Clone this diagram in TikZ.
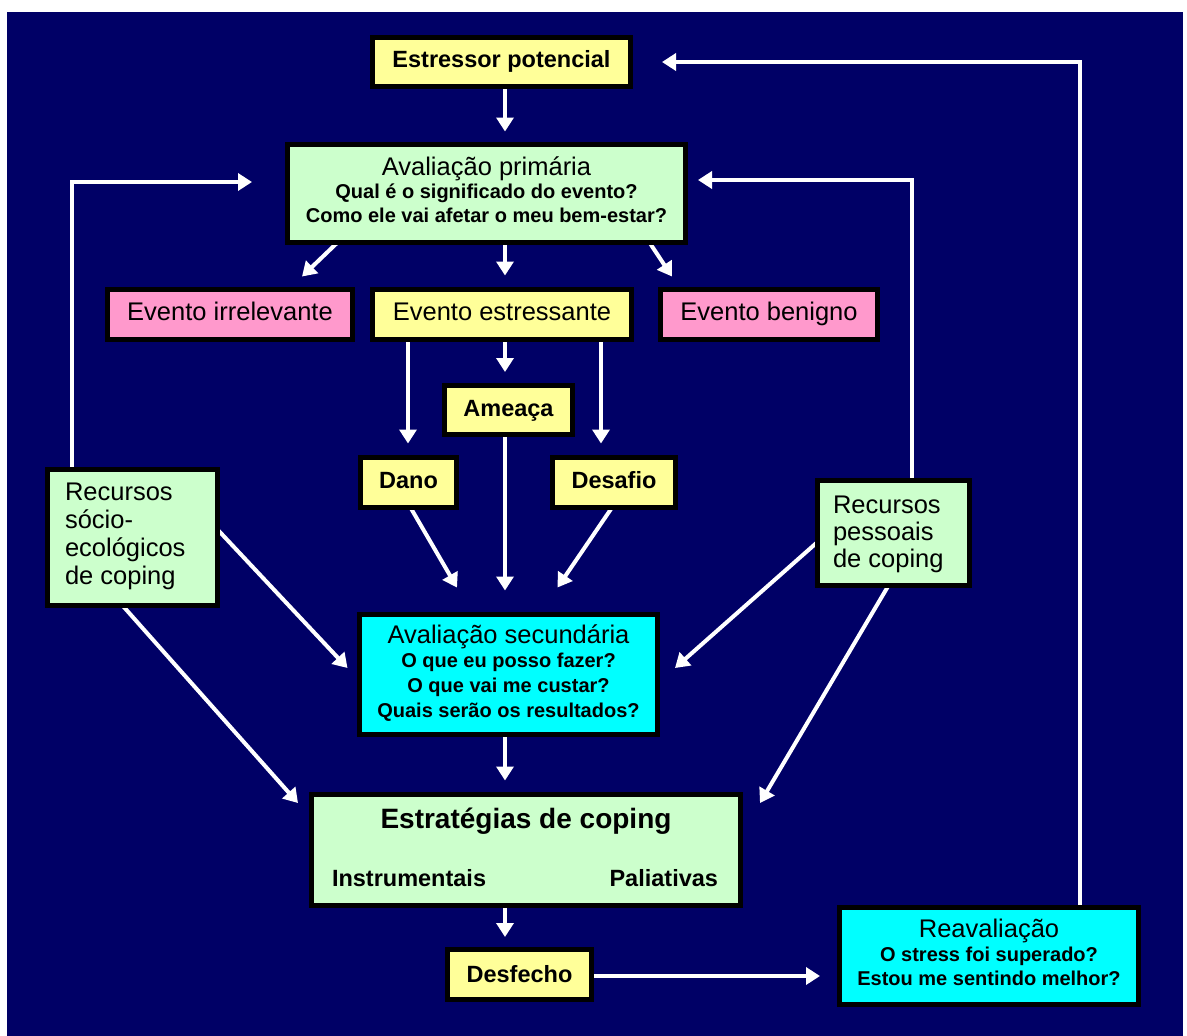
\documentclass[tikz,border=0pt]{standalone}
\usepackage{fontspec}
\setmainfont{Liberation Sans}
\usetikzlibrary{arrows.meta,calc}
\definecolor{navy}{HTML}{000066}
\definecolor{boxyellow}{HTML}{FFFF99}
\definecolor{boxgreen}{HTML}{CCFFCC}
\definecolor{boxpink}{HTML}{FF99CC}
\definecolor{boxcyan}{HTML}{00FFFF}
\pgfdeclarelayer{back}
\pgfdeclarelayer{arrows}
\pgfsetlayers{back,arrows,main}
\begin{document}
\begin{tikzpicture}[x=1pt,y=-1pt,
  box/.style={draw=black,line width=5pt,inner sep=0pt,outer sep=0pt},
  txt/.style={inner sep=0pt,outer sep=0pt,anchor=base,text=black},
  ltxt/.style={txt,anchor=base west},
  rtxt/.style={txt,anchor=base east},
  arr/.style={draw=white,line width=4pt,-{Triangle[width=17pt,length=14pt]}},
  fr/.style={font=\fontsize{25.5}{28}\selectfont},
  fb/.style={font=\bfseries\fontsize{23.5}{26}\selectfont},
  fbig/.style={font=\bfseries\fontsize{28}{30}\selectfont},
  fs/.style={font=\bfseries\fontsize{20}{24}\selectfont}]
\useasboundingbox (0,0) rectangle (1187,1036);
\begin{pgfonlayer}{back}
\fill[white] (0,0) rectangle (1187,1036);
\fill[navy] (7,12) rectangle (1183,1036);
\end{pgfonlayer}

% boxes
\node[box,fill=boxyellow,minimum width=258pt,minimum height=49pt] (estr) at (501.5,62) {};
\node[box,fill=boxgreen,minimum width=398pt,minimum height=98pt] (prim) at (486.5,193.5) {};
\node[box,fill=boxpink,minimum width=245pt,minimum height=50pt] (irrel) at (230,314.5) {};
\node[box,fill=boxyellow,minimum width=259pt,minimum height=50pt] (estres) at (502,314.5) {};
\node[box,fill=boxpink,minimum width=217pt,minimum height=50pt] (benig) at (769,314.5) {};
\node[box,fill=boxyellow,minimum width=128pt,minimum height=49pt] (ameaca) at (508.5,410) {};
\node[box,fill=boxyellow,minimum width=96pt,minimum height=50pt] (dano) at (408.5,482.5) {};
\node[box,fill=boxyellow,minimum width=123pt,minimum height=50pt] (desafio) at (614,482.5) {};
\node[box,fill=boxgreen,minimum width=170pt,minimum height=136pt] (rsocio) at (132.5,537.5) {};
\node[box,fill=boxgreen,minimum width=152pt,minimum height=105pt] (rpess) at (893.5,533) {};
\node[box,fill=boxcyan,minimum width=298pt,minimum height=120pt] (sec) at (508.5,674.5) {};
\node[box,fill=boxgreen,minimum width=429pt,minimum height=111pt] (estrat) at (526,850) {};
\node[box,fill=boxyellow,minimum width=144pt,minimum height=50pt] (desf) at (519.5,974.5) {};
\node[box,fill=boxcyan,minimum width=299pt,minimum height=97pt] (reav) at (989,956) {};

% texts
\node[txt,fb] (estr-t) at (501.5,67) {Estressor potencial};
\node[txt,fr] (prim-t1) at (486.5,175) {Avaliação primária};
\node[txt,fs] (prim-t2) at (486.5,198) {Qual é o significado do evento?};
\node[txt,fs] (prim-t3) at (486.5,222.5) {Como ele vai afetar o meu bem-estar?};
\node[txt,fr] (irrel-t) at (230,320) {Evento irrelevante};
\node[txt,fr] (estres-t) at (502,320) {Evento estressante};
\node[txt,fr] (benig-t) at (769,320) {Evento benigno};
\node[txt,fb] (ameaca-t) at (508.5,416) {Ameaça};
\node[txt,fb] (dano-t) at (408.5,488) {Dano};
\node[txt,fb] (desafio-t) at (614,488) {Desafio};
\node[ltxt,fr] (rsocio-t1) at (65,500) {Recursos};
\node[ltxt,fr] (rsocio-t2) at (65,528) {sócio-};
\node[ltxt,fr] (rsocio-t3) at (65,556) {ecológicos};
\node[ltxt,fr] (rsocio-t4) at (65,584) {de coping};
\node[ltxt,fr] (rpess-t1) at (833,513) {Recursos};
\node[ltxt,fr] (rpess-t2) at (833,540) {pessoais};
\node[ltxt,fr] (rpess-t3) at (833,567) {de coping};
\node[txt,fr] (sec-t1) at (508.5,643) {Avaliação secundária};
\node[txt,fs] (sec-t2) at (508.5,667) {O que eu posso fazer?};
\node[txt,fs] (sec-t3) at (508.5,692) {O que vai me custar?};
\node[txt,fs] (sec-t4) at (508.5,717) {Quais serão os resultados?};
\node[txt,fbig] (estrat-t1) at (526,828) {Estratégias de coping};
\node[ltxt,fb] (estrat-t2) at (332,886) {Instrumentais};
\node[rtxt,fb] (estrat-t3) at (718,886) {Paliativas};
\node[txt,fb] (desf-t) at (519.5,982) {Desfecho};
\node[txt,fr] (reav-t1) at (989,937) {Reavaliação};
\node[txt,fs] (reav-t2) at (989,961) {O stress foi superado?};
\node[txt,fs] (reav-t3) at (989,985) {Estou me sentindo melhor?};

% helper coordinates
\coordinate (spine) at (505,0);
\coordinate (dcol) at (408,0);
\coordinate (fcol) at (601,0);
\coordinate (rloop) at (1080,0);
\coordinate (lloop) at (72,182);
\coordinate (ploop) at (912,180);
\coordinate (lowy) at (0,976);

\begin{pgfonlayer}{arrows}
\draw[arr,shorten >=13pt] (estr.south -| spine) -- (prim.north -| spine);
\draw[arr,shorten >=31.5pt] (reav.north -| rloop) -- (rloop |- estr.east) -- (estr.east);
\draw[arr,shorten >=35.5pt] (rsocio.north -| lloop) -- (lloop) -- (prim.west |- lloop);
\draw[arr,shorten >=12.5pt] (rpess.north -| ploop) -- (ploop) -- (prim.east |- ploop);
\draw[arr] ($(prim.south west)+(50,0)$) -- ($(irrel.north)+(72,-13)$);
\draw[arr,shorten >=14pt] (prim.south -| spine) -- (estres.north -| spine);
\draw[arr] ($(prim.south east)+(-36,0)$) -- ($(benig.north)+(-97,-13)$);
\draw[arr,shorten >=14pt] (estres.south -| dcol) -- (dano.north -| dcol);
\draw[arr,shorten >=13.5pt] (estres.south -| spine) -- (ameaca.north -| spine);
\draw[arr,shorten >=14pt] (estres.south -| fcol) -- (desafio.north -| fcol);
\draw[arr,shorten >=24pt] (ameaca.south -| spine) -- (sec.north -| spine);
\draw[arr] ($(dano.south)+(2,0)$) -- ($(sec.north west)+(97.5,-27)$);
\draw[arr] ($(desafio.south)+(-2,0)$) -- ($(sec.north east)+(-100,-27)$);
\draw[arr] ($(rsocio.east)+(0,-8)$) -- ($(sec.west)+(-12,-6.5)$);
\draw[arr] ($(rpess.west)+(0,9)$) -- ($(sec.east)+(17.5,-6.5)$);
\draw[arr] ($(rsocio.south)+(-10,0)$) -- ($(estrat.west)+(-13.5,-47)$);
\draw[arr] ($(rpess.south)+(-5,0)$) -- ($(estrat.east)+(19.5,-47)$);
\draw[arr,shorten >=14pt] (sec.south -| spine) -- (estrat.north -| spine);
\draw[arr,shorten >=12.5pt] (estrat.south -| spine) -- (desf.north -| spine);
\draw[arr,shorten >=19.5pt] (desf.east |- lowy) -- (reav.west |- lowy);
\end{pgfonlayer}
\end{tikzpicture}
\end{document}
